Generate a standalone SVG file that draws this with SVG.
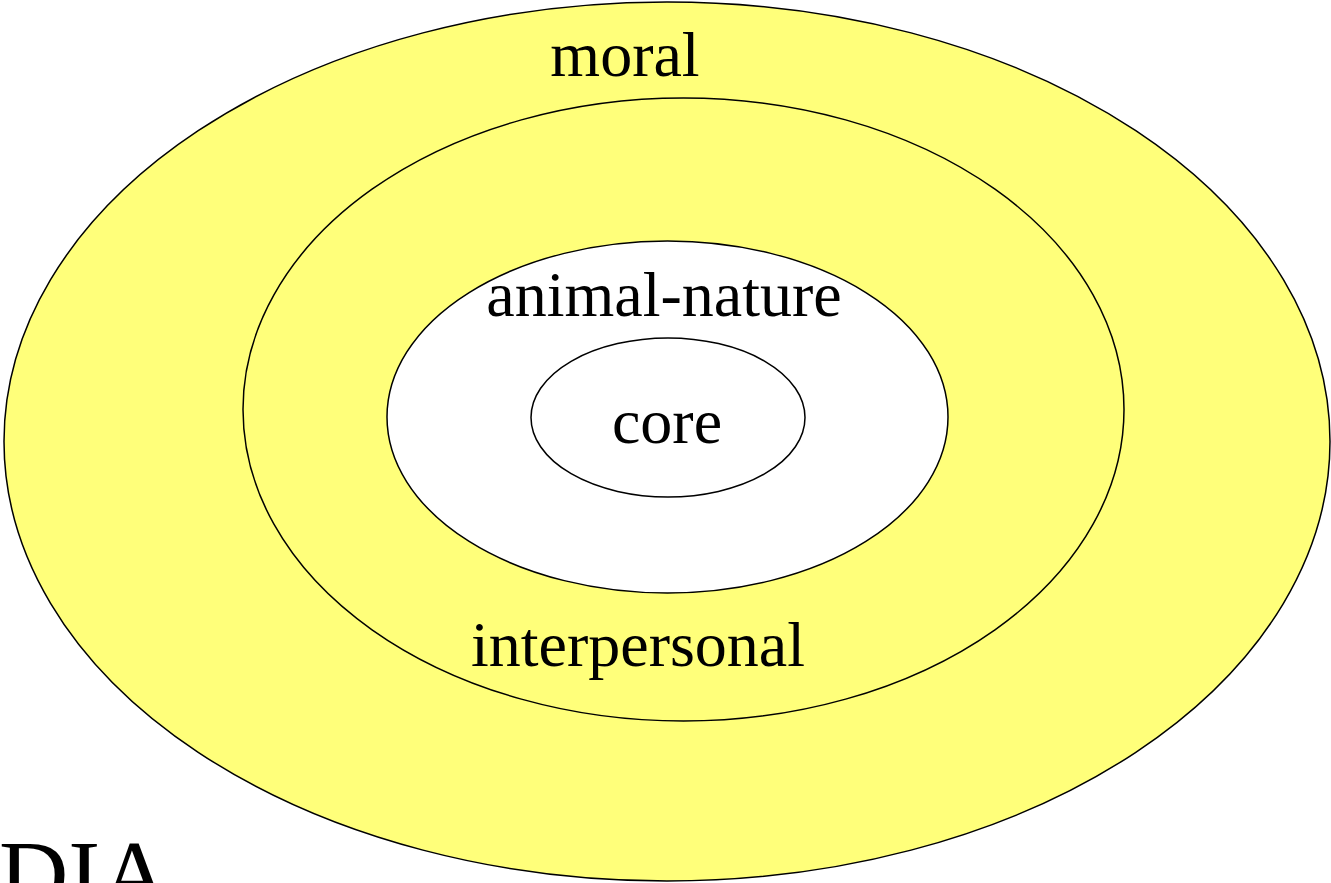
<svg xmlns="http://www.w3.org/2000/svg" width="1331" height="883" viewBox="0 0 1331 883">
<style>
.ring{stroke:#000;stroke-width:1.5}
.y{fill:#ffff7a}
.w{fill:#fff}
.t{font-family:"Liberation Serif","Times New Roman",serif;font-size:64px;fill:#000;text-anchor:middle}
</style>
<rect width="1331" height="883" fill="#fff"/>
<g id="moral">
<ellipse class="ring y" cx="667" cy="441.5" rx="663" ry="439.5"/>
<text class="t" x="625" y="76">moral</text>
</g>
<g id="interpersonal">
<ellipse class="ring y" cx="683.5" cy="409.5" rx="440.5" ry="311.5"/>
<text class="t" x="638" y="666">interpersonal</text>
</g>
<g id="animal-nature">
<ellipse class="ring w" cx="667.5" cy="417" rx="280.5" ry="176"/>
<text class="t" x="664" y="316">animal-nature</text>
</g>
<g id="core">
<ellipse class="ring w" cx="668" cy="417.5" rx="137" ry="79.5"/>
<text class="t" x="667" y="443">core</text>
</g>
<g id="connectors"/>
<text x="-1" y="907" font-family="Liberation Serif,'Times New Roman',serif" font-size="96" fill="#000">DIA</text>
</svg>
